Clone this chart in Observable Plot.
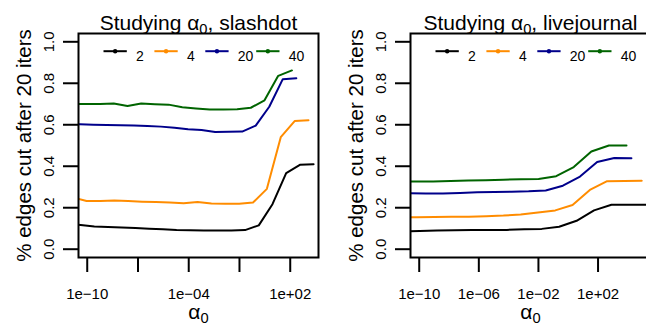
<!DOCTYPE html>
<html><head><meta charset="utf-8">
<script src="https://cdn.jsdelivr.net/npm/d3@7"></script>
<script src="https://cdn.jsdelivr.net/npm/@observablehq/plot@0.6"></script>
<style>
body{margin:0;background:#fff}
#wrap{width:646px;height:335px;overflow:hidden;display:flex;background:#fff}
#wrap svg{flex:0 0 auto;display:block}
</style></head><body><div id="wrap"></div>
<script>
// ---- series keys / colours ----
const seriesKeys = ["2", "4", "20", "40"];
const seriesColors = ["#000000", "#FF8C00", "#00008B", "#006400"];

// ---- slashdot panel: log10(alpha0) and % edges cut ----
const sdLogA2  = [-11.20,-10.39,-9.58,-8.77,-7.96,-7.15,-6.34,-5.53,-4.72,-3.91,-3.10,-2.29,-1.48,-0.67,0.14,0.95,1.76,2.57,3.38];
const sdCut2   = [0.122,0.117,0.110,0.107,0.105,0.102,0.099,0.096,0.092,0.091,0.090,0.090,0.090,0.092,0.115,0.217,0.367,0.407,0.410];
const sdLogA4  = [-10.86,-10.04,-9.22,-8.40,-7.58,-6.76,-5.94,-5.12,-4.30,-3.48,-2.66,-1.84,-1.02,-0.20,0.62,1.44,2.26,3.08];
const sdCut4   = [0.250,0.232,0.233,0.235,0.232,0.229,0.227,0.225,0.222,0.228,0.220,0.219,0.219,0.225,0.291,0.540,0.618,0.622];
const sdLogA20 = [-11.24,-10.44,-9.64,-8.84,-8.04,-7.24,-6.44,-5.64,-4.84,-4.04,-3.24,-2.44,-1.64,-0.84,-0.04,0.76,1.56,2.36];
const sdCut20  = [0.602,0.602,0.600,0.599,0.598,0.596,0.594,0.591,0.585,0.578,0.575,0.565,0.566,0.567,0.596,0.687,0.820,0.824];
const sdLogA40 = [-10.86,-10.05,-9.24,-8.43,-7.62,-6.81,-6.00,-5.19,-4.38,-3.57,-2.76,-1.95,-1.14,-0.33,0.48,1.29,2.10];
const sdCut40  = [0.700,0.700,0.700,0.703,0.690,0.702,0.699,0.697,0.684,0.678,0.673,0.674,0.675,0.682,0.718,0.836,0.862];

// ---- livejournal panel ----
const ljLogA2  = [-11.14,-9.97,-8.80,-7.63,-6.46,-5.29,-4.12,-2.95,-1.78,-0.61,0.56,1.73,2.90,4.07,5.24,6.41];
const ljCut2   = [0.086,0.088,0.090,0.091,0.092,0.092,0.093,0.096,0.098,0.108,0.137,0.187,0.214,0.214,0.214,0.214];
const ljLogA4  = [-11.31,-10.15,-8.99,-7.83,-6.67,-5.51,-4.35,-3.19,-2.03,-0.87,0.29,1.45,2.61,3.77,4.93];
const ljCut4   = [0.153,0.154,0.155,0.156,0.157,0.159,0.162,0.167,0.177,0.187,0.213,0.286,0.328,0.329,0.330];
const ljLogA20 = [-11.86,-10.71,-9.56,-8.41,-7.26,-6.11,-4.96,-3.81,-2.66,-1.51,-0.36,0.79,1.94,3.09,4.24];
const ljCut20  = [0.270,0.270,0.269,0.269,0.271,0.274,0.276,0.277,0.279,0.283,0.306,0.350,0.420,0.440,0.439];
const ljLogA40 = [-11.43,-10.25,-9.07,-7.89,-6.71,-5.53,-4.35,-3.17,-1.99,-0.81,0.37,1.55,2.73,3.91];
const ljCut40  = [0.326,0.326,0.327,0.329,0.331,0.333,0.335,0.337,0.338,0.352,0.396,0.471,0.500,0.500];

// ---- ticks / labels ----
const yTicks = [0, 0.2, 0.4, 0.6, 0.8, 1.0];
const yTickLabels = ["0.0", "0.2", "0.4", "0.6", "0.8", "1.0"];
const sdXTicks = [1e-10, 1e-7, 1e-4, 1e-1, 1e2];
const sdXTickLabels = ["1e\u221210", "", "1e\u221204", "", "1e+02"];
const ljXTicks = [1e-10, 1e-6, 1e-2, 1e2];
const ljXTickLabels = ["1e\u221210", "1e\u221206", "1e\u221202", "1e+02"];
const sdTitle = "Studying \u03b1\u2080, slashdot";
const ljTitle = "Studying \u03b1\u2080, livejournal";
const yLabel = "% edges cut after 20 iters";
const xLabel = "\u03b1\u2080";

const FONT = "'Liberation Sans', Arial, Helvetica, sans-serif";

function rows(logAs, cuts) {
  return seriesKeys.flatMap((k, j) => logAs[j].map((e, i) => ({alpha: Math.pow(10, e), cut: cuts[j][i], k})));
}

const segSymbol = {draw(ctx) { ctx.moveTo(-11.65, 0); ctx.lineTo(11.65, 0); }};

function panel({data, xDomainLog, xTicks, xTickLabels, title, marginLeft}) {
  const legendMarks = seriesKeys.flatMap((k, i) => {
    const start = 25 + i * 50.9;
    return [
      Plot.dot([k], {frameAnchor: "top-left", dx: start + 11.65, dy: 17.7, symbol: segSymbol, stroke: seriesColors[i], strokeWidth: 2, fill: "none"}),
      Plot.dot([k], {frameAnchor: "top-left", dx: start + 11.65, dy: 17.7, r: 2.2, fill: seriesColors[i], stroke: "none"}),
      Plot.text([k], {frameAnchor: "top-left", dx: start + 32.5, dy: 17.7, text: d => d, textAnchor: "start", fontSize: 14, fill: "black"})
    ];
  });
  return Plot.plot({
    width: 332, height: 335,
    marginLeft, marginRight: 14, marginTop: 33, marginBottom: 78,
    style: {fontFamily: FONT, fontSize: "15px", background: "white", color: "black"},
    x: {type: "log", domain: xDomainLog.map(e => Math.pow(10, e))},
    y: {domain: [-0.04, 1.04]},
    color: {domain: seriesKeys, range: seriesColors},
    marks: [
      Plot.line(data, {x: "alpha", y: "cut", z: "k", stroke: "k", strokeWidth: 2, clip: true, strokeLinejoin: "round", strokeLinecap: "round"}),
      Plot.frame({stroke: "black", strokeWidth: 2}),
      Plot.axisY({ticks: yTicks, tickSize: 15, tickFormat: () => "", strokeWidth: 2, label: null}),
      Plot.text(yTicks, {y: d => d, frameAnchor: "left", dx: -29.5, rotate: -90, textAnchor: "middle", text: (d, i) => yTickLabels[i], fontSize: 15, fill: "black"}),
      Plot.axisX({ticks: xTicks, tickSize: 15, tickFormat: () => "", strokeWidth: 2, label: null}),
      Plot.text(xTicks, {x: d => d, frameAnchor: "bottom", dy: 41, textAnchor: "middle", text: (d, i) => xTickLabels[i], fontSize: 15, fill: "black"}),
      Plot.text([title], {frameAnchor: "top", dy: -18.7, textAnchor: "middle", text: d => d, fontSize: 21, fill: "black"}),
      Plot.text([yLabel], {frameAnchor: "left", dx: -54.5, rotate: -90, textAnchor: "middle", text: d => d, fontSize: 20.5, fill: "black"}),
      Plot.text([xLabel], {frameAnchor: "bottom", dy: 61.5, textAnchor: "middle", text: d => d, fontSize: 21, fill: "black"}),
      ...legendMarks
    ]
  });
}

function subscriptify(svg) {
  svg.querySelectorAll("text").forEach(t => {
    const s = t.textContent;
    if (!s.includes("\u2080")) return;
    const [before, after] = s.split("\u2080");
    while (t.firstChild) t.removeChild(t.firstChild);
    const ns = "http://www.w3.org/2000/svg";
    const a = document.createElementNS(ns, "tspan"); a.textContent = before;
    const b = document.createElementNS(ns, "tspan"); b.textContent = "0";
    b.setAttribute("font-size", "70%"); b.setAttribute("dy", "0.3em");
    t.appendChild(a); t.appendChild(b);
    if (after) {
      const c = document.createElementNS(ns, "tspan"); c.textContent = after;
      c.setAttribute("dy", "-0.21em");
      t.appendChild(c);
    }
  });
}

const wrap = document.getElementById("wrap");
const left = panel({
  data: rows([sdLogA2, sdLogA4, sdLogA20, sdLogA40], [sdCut2, sdCut4, sdCut20, sdCut40]),
  xDomainLog: [-10.516, 3.671], xTicks: sdXTicks, xTickLabels: sdXTickLabels, title: sdTitle, marginLeft: 78
});
const right = panel({
  data: rows([ljLogA2, ljLogA4, ljLogA20, ljLogA40], [ljCut2, ljCut4, ljCut20, ljCut40]),
  xDomainLog: [-10.585, 5.52], xTicks: ljXTicks, xTickLabels: ljXTickLabels, title: ljTitle, marginLeft: 78
});
subscriptify(left); subscriptify(right);
wrap.appendChild(left); wrap.appendChild(right);
</script></body></html>
